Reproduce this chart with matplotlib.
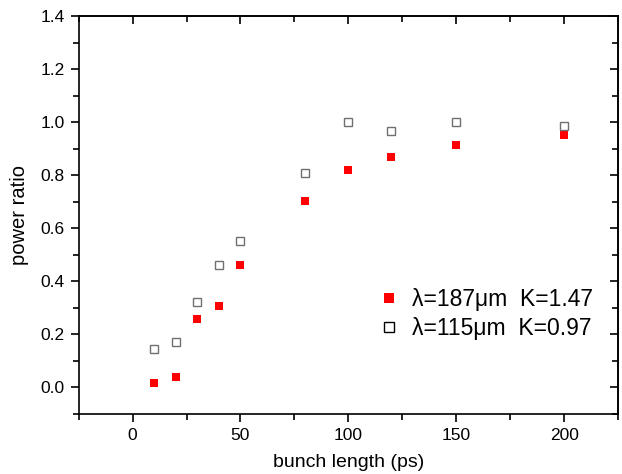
import matplotlib
matplotlib.use("Agg")
import matplotlib.pyplot as plt
from matplotlib.ticker import MultipleLocator

plt.rcParams['font.family'] = ['Liberation Sans', 'DejaVu Sans']

# bunch length (ps)
bunch_len = [10, 20, 30, 40, 50, 80, 100, 120, 150, 200]
# power ratio, lambda = 187 um
ratio_187 = [0.016, 0.038, 0.26, 0.308, 0.461, 0.703, 0.819, 0.870, 0.914, 0.952]
# power ratio, lambda = 115 um
ratio_115 = [0.145, 0.171, 0.323, 0.463, 0.553, 0.810, 1.001, 0.965, 1.001, 0.987]

fig = plt.figure(figsize=(6.22, 4.74), dpi=100)
ax = fig.add_axes([0.1265, 0.1266, 0.8671, 0.8394])

ax.plot(bunch_len, ratio_187, 's', color='#ff0000', markersize=5.3,
        markeredgewidth=0, label='λ=187μm  K=1.47')
ax.plot(bunch_len, ratio_115, 's', markerfacecolor='white', markeredgecolor='#707070',
        markersize=5.3, markeredgewidth=1.0, label='λ=115μm  K=0.97')

ax.set_xlim(-25, 225)
ax.set_ylim(-0.1, 1.4)
ax.xaxis.set_major_locator(MultipleLocator(50))
ax.xaxis.set_minor_locator(MultipleLocator(25))
ax.yaxis.set_major_locator(MultipleLocator(0.2))
ax.yaxis.set_minor_locator(MultipleLocator(0.1))
ax.yaxis.set_major_formatter(matplotlib.ticker.FormatStrFormatter('%.1f'))

ax.tick_params(which='both', direction='out', top=False, right=False,
               labelsize=12.5, width=1.2)
ax.tick_params(which='major', length=6, pad=4)
ax.tick_params(which='minor', length=4)

# inward ticks on top and right spines
ax2 = ax.secondary_xaxis('top')
ax2.xaxis.set_major_locator(MultipleLocator(50))
ax2.xaxis.set_minor_locator(MultipleLocator(25))
ax2.tick_params(which='both', direction='in', labeltop=False, width=1.2)
ax2.tick_params(which='major', length=6)
ax2.tick_params(which='minor', length=4)
ay2 = ax.secondary_yaxis('right')
ay2.yaxis.set_major_locator(MultipleLocator(0.2))
ay2.yaxis.set_minor_locator(MultipleLocator(0.1))
ay2.tick_params(which='both', direction='in', labelright=False, width=1.2)
ay2.tick_params(which='major', length=6)
ay2.tick_params(which='minor', length=4)

for s in ax.spines.values():
    s.set_linewidth(1.2)
ax2.spines['top'].set_linewidth(1.2)
ay2.spines['right'].set_linewidth(1.2)

ax.set_xlabel('bunch length (ps)', fontsize=14, labelpad=8)
ax.set_ylabel('power ratio', fontsize=14.5, labelpad=8)

leg = ax.legend(loc='lower right', bbox_to_anchor=(0.992, 0.135), frameon=False,
                fontsize=16.5, handletextpad=0.55, handlelength=0.9,
                labelspacing=0.25, markerscale=1.3)
for h in leg.legend_handles[1:]:
    h.set_markeredgecolor('black')

fig.savefig('out.png', dpi=100)
